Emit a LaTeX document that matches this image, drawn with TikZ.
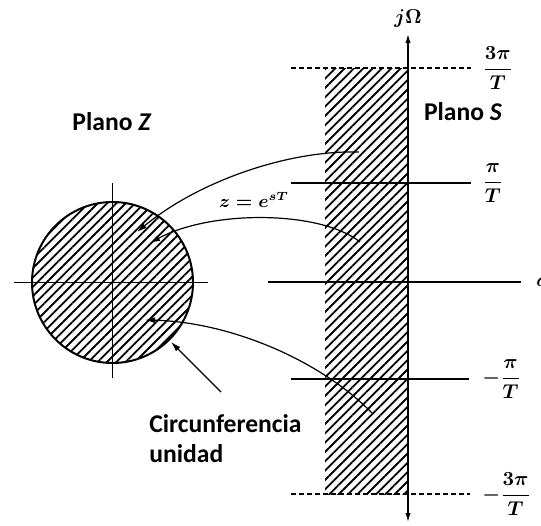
\documentclass[tikz,border=0pt]{standalone}
\usepackage{amsmath}
\usepackage{fontspec}
\usetikzlibrary{arrows.meta, patterns.meta, positioning}
\newfontfamily\plfont{Carlito}

\begin{document}
\begin{tikzpicture}[
  x=0.5pt, y=-0.5pt,
  txt/.style={font=\plfont\bfseries\fontsize{12.8}{15}\selectfont, inner sep=0pt},
  mth/.style={font=\fontsize{10}{12}\selectfont\boldmath, inner sep=0pt},
  ax/.style={line width=0.9pt},
  dsh/.style={line width=0.9pt, dash pattern=on 2.5pt off 1.5pt},
  hatch/.style={pattern={Lines[angle=45, distance=3.3pt, line width=0.9pt]}},
  ar/.style={-{Latex[length=5pt, width=3pt]}, line width=0.6pt},
  dar/.style={{Latex[length=5pt, width=2.6pt]}-{Latex[length=5pt, width=2.6pt]}, line width=0.9pt}
]
\useasboundingbox (0,0) rectangle (541,525);
\fill[white] (0,0) rectangle (541,525);

\coordinate (o) at (112.5,282.5);
\fill[hatch] (o) circle[radius=80.5];
\draw[line width=1pt] (o) circle[radius=80.5];
\coordinate (zl) at (14,282.5);
\coordinate (zr) at (208,282.5);
\coordinate (zt) at (112.5,183);
\coordinate (zb) at (112.5,378);
\draw[ax] (zl) -- (zr);
\draw[ax] (zt) -- (zb);

\fill[hatch] (325,68) rectangle (408,494);
\coordinate (jt) at (408,33);
\coordinate (jb) at (408,523);
\draw[dar] (jb) -- (jt);

\coordinate (l3a) at (291,68);
\coordinate (l3b) at (471,68);
\coordinate (l1a) at (291,183);
\coordinate (l1b) at (471,183);
\coordinate (l0a) at (268,282);
\coordinate (l0b) at (521,282);
\coordinate (m1a) at (291,379);
\coordinate (m1b) at (469,379);
\coordinate (m3a) at (291,494);
\coordinate (m3b) at (470,494);
\draw[dsh] (l3a) -- (l3b);
\draw[ax] (l1a) -- (l1b);
\draw[ax] (l0a) -- (l0b);
\draw[ax] (m1a) -- (m1b);
\draw[dsh] (m3a) -- (m3b);

\node[mth, above=2.5pt of jt] (jw) {$j\Omega$};
\node[mth, right=5.5pt of l3b] (f3) {$\dfrac{3\pi}{T}$};
\node[mth, right=5.5pt of l1b] (f1) {$\dfrac{\pi}{T}$};
\node[mth, right=7.5pt of l0b] (sg) {$\sigma$};
\node[mth, right=6.5pt of m1b] (g1) {$-\dfrac{\pi}{T}$};
\node[mth, right=6pt of m3b] (g3) {$-\dfrac{3\pi}{T}$};

\coordinate (a1) at (359,152);
\coordinate (b1) at (137,232);
\coordinate (a2) at (360,242);
\coordinate (b2) at (150,243);
\coordinate (a3) at (372,413);
\coordinate (b3) at (145,320);
\draw[ar] (a1) .. controls (290,150) and (200,180) .. (b1);
\draw[ar] (a2) .. controls (320,210) and (210,210) .. (b2);
\draw[ar] (a3) .. controls (320,360) and (230,322) .. (b3);
\node[mth, font=\fontsize{9}{11}\selectfont\boldmath] (map) at (254,200) {$z = e^{sT}$};

\node[txt] (pz) at (112,122) {Plano \textit{Z}};
\node[txt] (ps) at (463,112) {Plano \textit{S}};
\node[txt, align=left, anchor=north west] (cu) at (149,414) {Circunferencia\\unidad};
\coordinate (pf) at (221,392);
\coordinate (pt) at (171,342);
\draw[ar] (pf) -- (pt);
\end{tikzpicture}
\end{document}
